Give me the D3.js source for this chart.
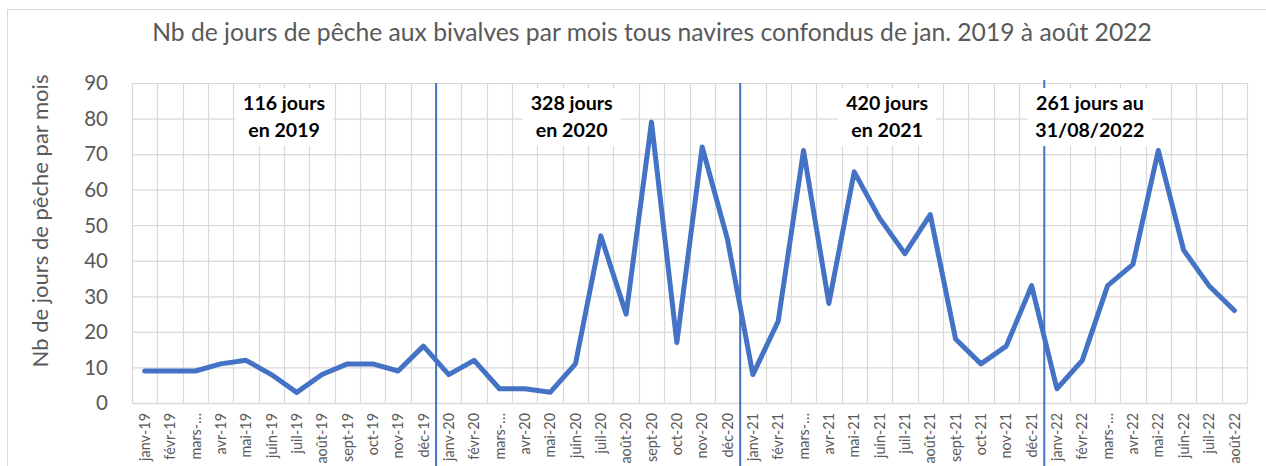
<!DOCTYPE html>
<html>
<head>
<meta charset="utf-8">
<script src="https://cdn.jsdelivr.net/npm/d3@7"></script>
<style>
  body { margin: 0; background: #fff; }
  text { font-family: Lato, "Open Sans", sans-serif; }
</style>
</head>
<body>
<div id="chart"></div>
<script>
// data
const months = [
  "janv-19","févr-19","mars-…","avr-19","mai-19","juin-19","juil-19","août-19","sept-19","oct-19","nov-19","déc-19",
  "janv-20","févr-20","mars-…","avr-20","mai-20","juin-20","juil-20","août-20","sept-20","oct-20","nov-20","déc-20",
  "janv-21","févr-21","mars-…","avr-21","mai-21","juin-21","juil-21","août-21","sept-21","oct-21","nov-21","déc-21",
  "janv-22","févr-22","mars-…","avr-22","mai-22","juin-22","juil-22","août-22"
];
const jours = [
  9, 9, 9, 11, 12, 8, 3, 8, 11, 11, 9, 16,
  8, 12, 4, 4, 3, 11, 47, 25, 79, 17, 72, 46,
  8, 23, 71, 28, 65, 52, 42, 53, 18, 11, 16, 33,
  4, 12, 33, 39, 71, 43, 33, 26
];
const yTicks = [0, 10, 20, 30, 40, 50, 60, 70, 80, 90];
// year separators (index of first month of year) and annotations
const yearStarts = [12, 24, 36];
const notes = [
  { at: 5.5, lines: ["116 jours", "en 2019"] },
  { at: 16.85, lines: ["328 jours", "en 2020"] },
  { at: 29.3, lines: ["420 jours", "en 2021"] },
  { at: 37.3, lines: ["261 jours au", "31/08/2022"] }
];

const W = 1266, H = 466;
const margin = { top: 83, right: 19, bottom: 63, left: 132 };
const width = W - margin.left - margin.right;
const height = H - margin.top - margin.bottom;

const svg = d3.select("#chart").append("svg").attr("width", W).attr("height", H);

// scale font so text takes the width it has in the original
function fit(sel, target) {
  const fs = +sel.attr("font-size");
  const len = sel.node().getComputedTextLength();
  sel.attr("font-size", (fs * target / len).toFixed(2));
}

// frame
svg.append("rect").attr("x", 7.5).attr("y", 9.5).attr("width", 1266).attr("height", 470)
  .attr("fill", "none").attr("stroke", "#d9d9d9");

const g = svg.append("g").attr("transform", `translate(${margin.left},${margin.top})`);

const x = d3.scaleBand().domain(d3.range(months.length)).range([0, width]);
const y = d3.scaleLinear().domain([0, 90]).range([height, 0]);

// horizontal grid
g.append("g").selectAll("line").data(yTicks.slice(1)).join("line")
  .attr("x1", 0).attr("x2", width)
  .attr("y1", d => y(d) + 0.5).attr("y2", d => y(d) + 0.5)
  .attr("stroke", "#d9d9d9").attr("stroke-width", 1.2);

// vertical grid (between categories)
g.append("g").selectAll("line").data(d3.range(months.length + 1)).join("line")
  .attr("x1", d => Math.round(x.step() * d) + 0.5).attr("x2", d => Math.round(x.step() * d) + 0.5)
  .attr("y1", 0).attr("y2", height)
  .attr("stroke", "#d9d9d9").attr("stroke-width", 1.2);

// x axis line
g.append("line").attr("x1", 0).attr("x2", width).attr("y1", height + 0.5).attr("y2", height + 0.5)
  .attr("stroke", "#d9d9d9").attr("stroke-width", 1.5);

// y labels
g.append("g").selectAll("text").data(yTicks).join("text")
  .attr("x", -24).attr("y", d => y(d)).attr("dy", "0.36em")
  .attr("text-anchor", "end").attr("font-size", 20.5).attr("fill", "#595959")
  .text(d => d);

// x labels
const xLabels = g.append("g").selectAll("text").data(months).join("text")
  .attr("text-anchor", "end").attr("font-size", 14).attr("fill", "#595959")
  .text(d => d);
const xs = 14 * 48 / xLabels.node().getComputedTextLength();
xLabels.attr("font-size", xs.toFixed(2))
  .attr("transform", (d, i) => `translate(${x(i) + x.bandwidth() / 2 + xs * 0.36},${height + 10}) rotate(-90)`);

// year separators
g.append("g").selectAll("line").data(yearStarts).join("line")
  .attr("x1", d => x(d)).attr("x2", d => x(d))
  .attr("y1", (d, i) => i === 2 ? -3 : 0).attr("y2", H - margin.top)
  .attr("stroke", "#4472c4").attr("stroke-width", 2);

// annotations
let noteSize = null;
notes.forEach(n => {
  const cx = x(0) + x.step() * n.at + x.bandwidth() / 2;
  const t = g.append("text").attr("text-anchor", "middle").attr("font-size", 17)
    .attr("font-weight", "bold").attr("fill", "#000");
  n.lines.forEach((l, i) => t.append("tspan").attr("x", cx).attr("y", 27 + i * 27).text(l));
  if (noteSize === null) {
    const first = t.select("tspan").node().getComputedTextLength();
    noteSize = 17 * 82 / first;
  }
  t.attr("font-size", noteSize.toFixed(2));
  const bb = t.node().getBBox();
  g.insert("rect", () => t.node())
    .attr("x", bb.x - 8).attr("y", bb.y - 3).attr("width", bb.width + 16).attr("height", bb.height + 8)
    .attr("fill", "#fff");
});

// line
const line = d3.line().x((d, i) => x(i) + x.bandwidth() / 2).y(d => y(d));
g.append("path").datum(jours).attr("d", line)
  .attr("fill", "none").attr("stroke", "#4472c4").attr("stroke-width", 5)
  .attr("stroke-linejoin", "round").attr("stroke-linecap", "round");

// title
const title = svg.append("text").attr("x", 652).attr("y", 41).attr("text-anchor", "middle")
  .attr("font-size", 20).attr("fill", "#595959")
  .text("Nb de jours de pêche aux bivalves par mois tous navires confondus de jan. 2019 à août 2022");
fit(title, 1000);

// y title
const yTitle = svg.append("text").attr("transform", "translate(48,221) rotate(-90)")
  .attr("text-anchor", "middle").attr("font-size", 18).attr("fill", "#595959")
  .text("Nb de jours de pêche par mois");
fit(yTitle, 293);
</script>
</body>
</html>
